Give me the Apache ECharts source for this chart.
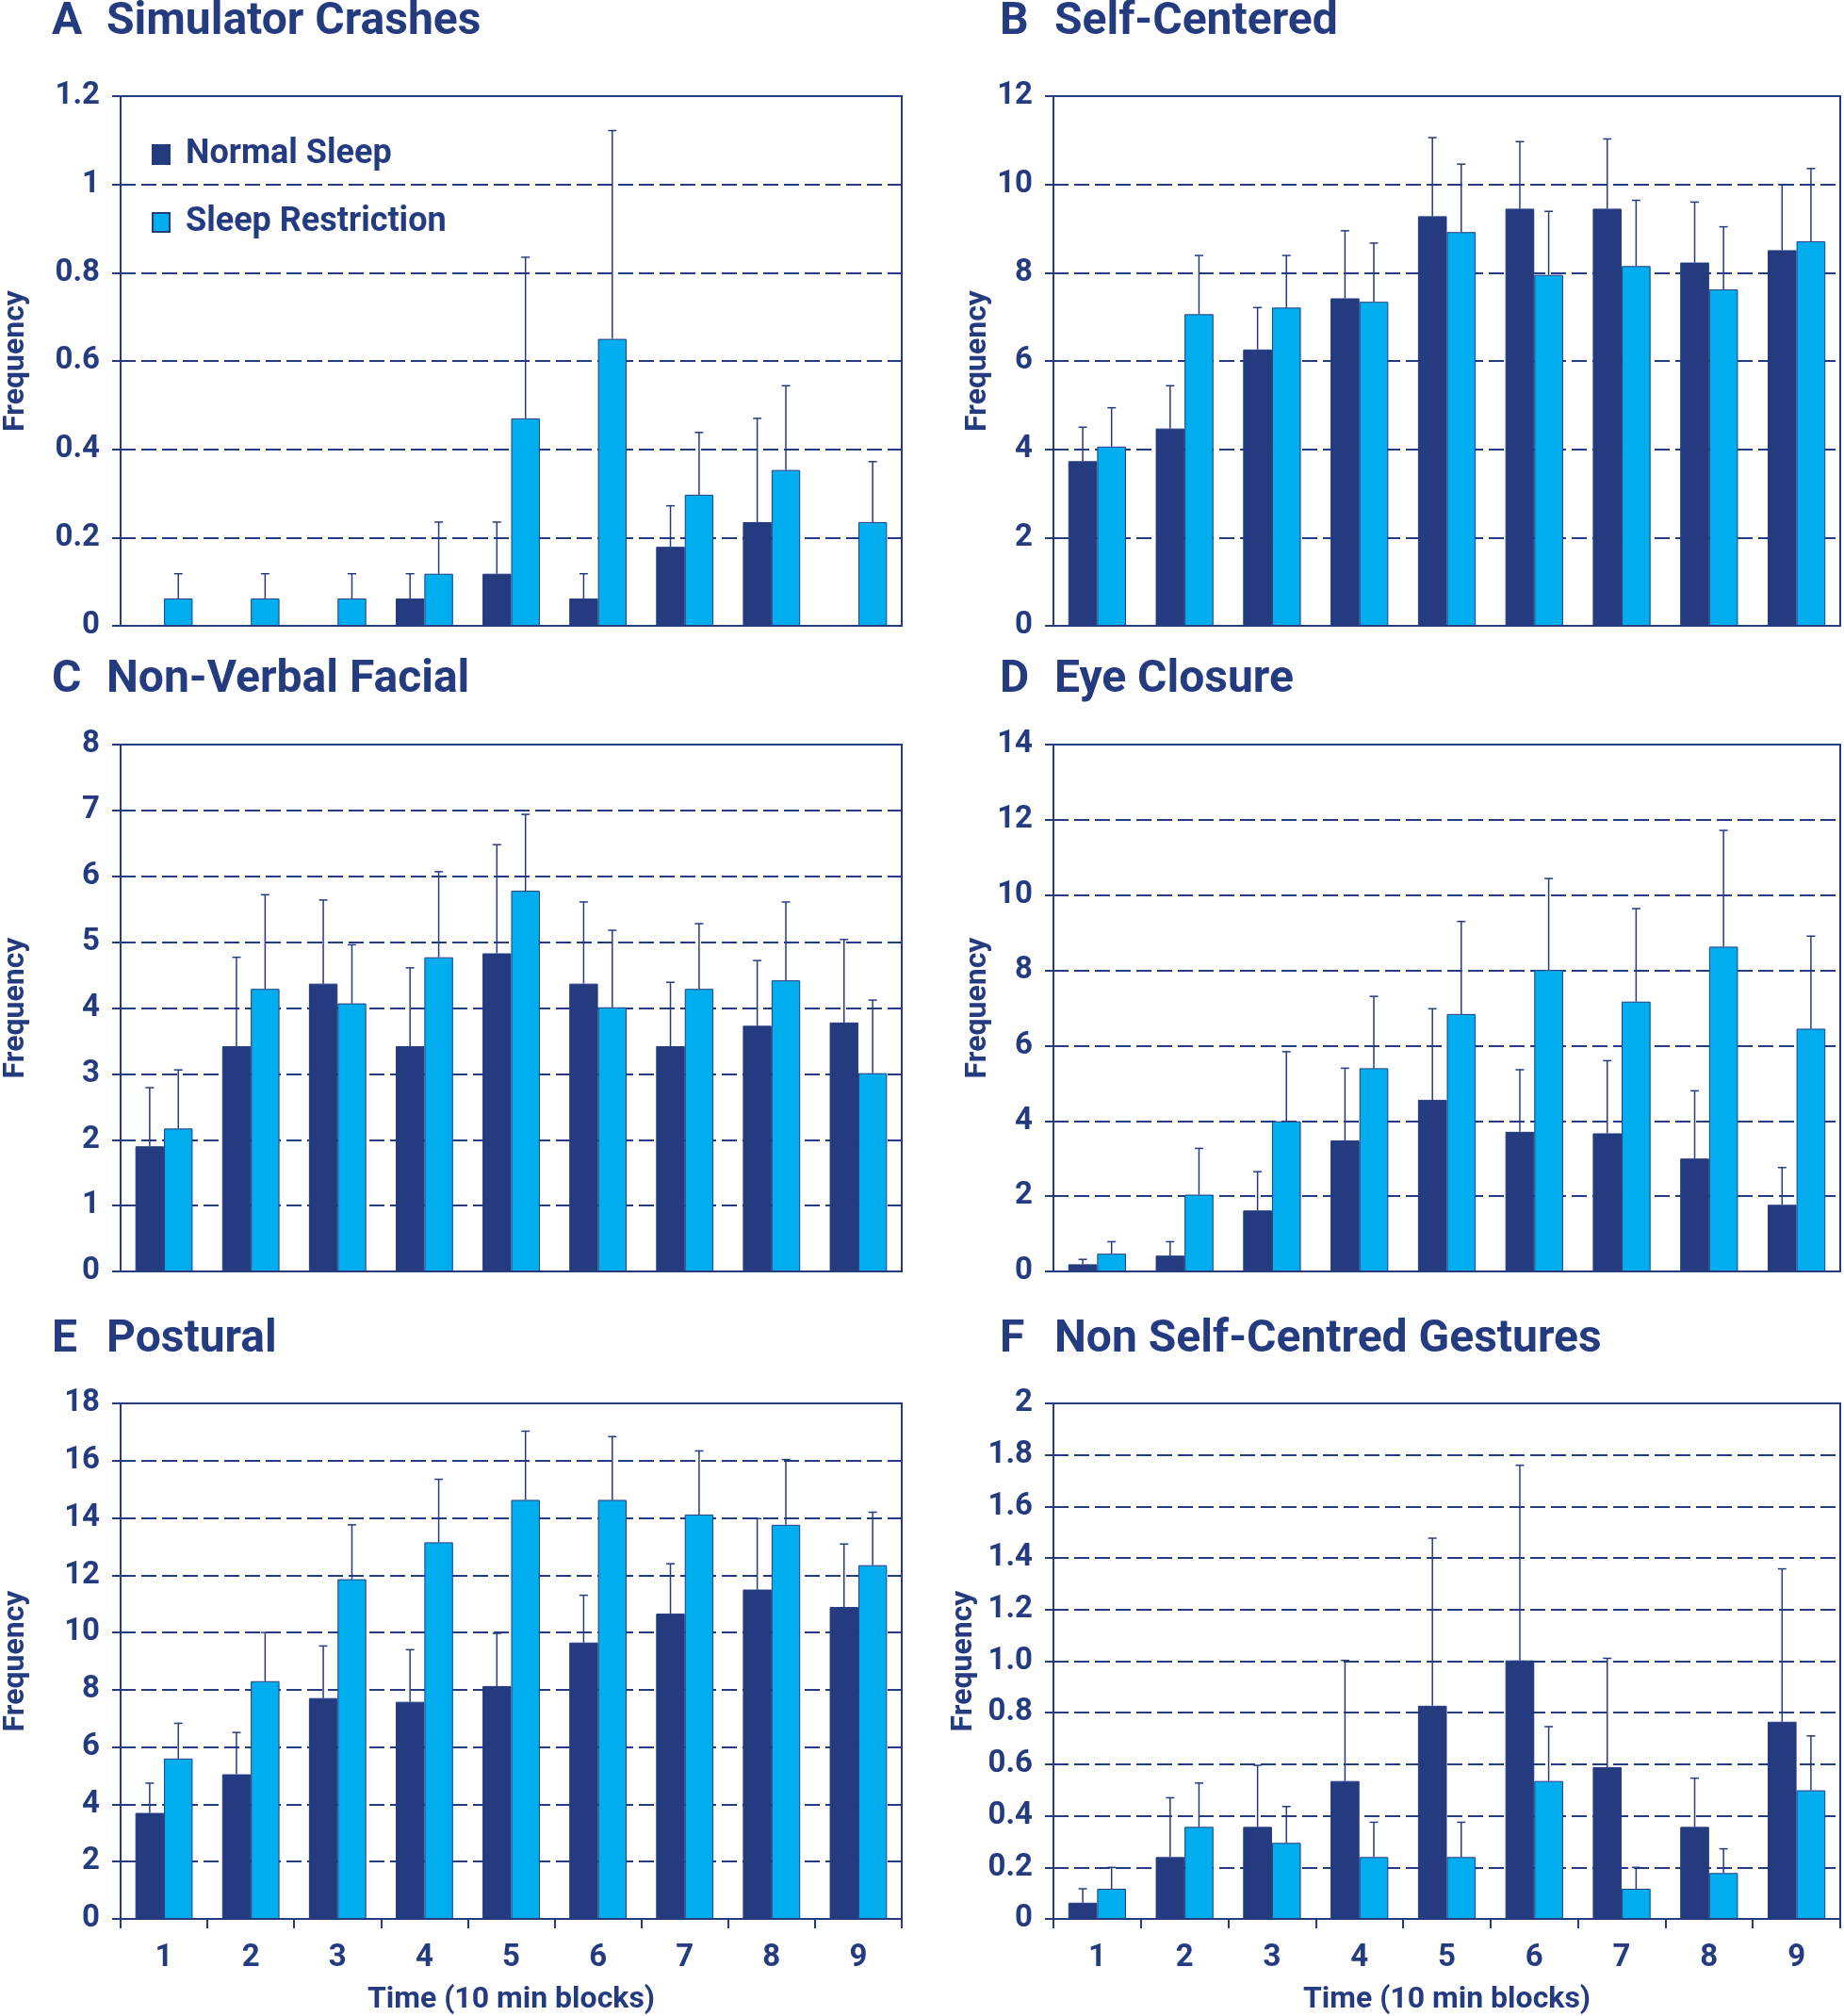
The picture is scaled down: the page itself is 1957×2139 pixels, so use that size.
<!DOCTYPE html>
<html><head><meta charset="utf-8">
<script src="https://cdn.jsdelivr.net/npm/echarts@6/dist/echarts.min.js"></script>
<style>html,body{margin:0;padding:0;background:#fff}#c{width:1957px;height:2139px}</style>
</head><body><div id="c"></div>
<script>
// ---------- DATA ----------
const categories = ['1','2','3','4','5','6','7','8','9'];
const seriesNames = ['Normal Sleep','Sleep Restriction'];

// A Simulator Crashes
const aNormal        = [0, 0, 0, 0.062, 0.118, 0.062, 0.179, 0.235, 0];
const aNormalUpper   = [null, null, null, 0.118, 0.235, 0.118, 0.272, 0.47, null];
const aRestrict      = [0.062, 0.062, 0.062, 0.118, 0.47, 0.65, 0.297, 0.353, 0.235];
const aRestrictUpper = [0.118, 0.118, 0.118, 0.235, 0.835, 1.122, 0.438, 0.544, 0.372];

// B Self-Centered
const bNormal        = [3.73, 4.47, 6.26, 7.42, 9.28, 9.45, 9.45, 8.23, 8.51];
const bNormalUpper   = [4.50, 5.44, 7.21, 8.95, 11.06, 10.97, 11.03, 9.60, 10.0];
const bRestrict      = [4.06, 7.06, 7.21, 7.34, 8.92, 7.95, 8.15, 7.62, 8.71];
const bRestrictUpper = [4.94, 8.39, 8.39, 8.67, 10.46, 9.39, 9.64, 9.04, 10.36];

// C Non-Verbal Facial
const cNormal        = [1.90, 3.42, 4.37, 3.42, 4.83, 4.37, 3.42, 3.73, 3.78];
const cNormalUpper   = [2.79, 4.77, 5.64, 4.61, 6.48, 5.61, 4.39, 4.72, 5.04];
const cRestrict      = [2.17, 4.29, 4.07, 4.77, 5.78, 4.01, 4.29, 4.42, 3.01];
const cRestrictUpper = [3.06, 5.72, 4.96, 6.07, 6.94, 5.18, 5.28, 5.61, 4.12];

// D Eye Closure
const dNormal        = [0.19, 0.42, 1.62, 3.48, 4.56, 3.71, 3.67, 3.00, 1.77];
const dNormalUpper   = [0.32, 0.79, 2.65, 5.40, 6.98, 5.36, 5.60, 4.80, 2.76];
const dRestrict      = [0.47, 2.04, 3.99, 5.40, 6.84, 8.01, 7.17, 8.63, 6.45];
const dRestrictUpper = [0.79, 3.27, 5.84, 7.31, 9.30, 10.44, 9.64, 11.72, 8.91];

// E Postural
const eNormal        = [3.70, 5.05, 7.71, 7.58, 8.13, 9.65, 10.66, 11.50, 10.89];
const eNormalUpper   = [4.74, 6.51, 9.53, 9.40, 9.97, 11.30, 12.40, 13.98, 13.09];
const eRestrict      = [5.60, 8.30, 11.86, 13.15, 14.63, 14.63, 14.12, 13.76, 12.35];
const eRestrictUpper = [6.83, 10.0, 13.76, 15.35, 17.03, 16.84, 16.34, 16.04, 14.20];

// F Non Self-Centred Gestures
const fNormal        = [0.063, 0.24, 0.357, 0.535, 0.827, 1.003, 0.589, 0.357, 0.765];
const fNormalUpper   = [0.117, 0.47, 0.596, 1.003, 1.477, 1.76, 1.011, 0.546, 1.358];
const fRestrict      = [0.117, 0.357, 0.295, 0.24, 0.24, 0.535, 0.117, 0.178, 0.499];
const fRestrictUpper = [0.20, 0.527, 0.436, 0.375, 0.375, 0.746, 0.20, 0.272, 0.71];

// axis ticks
const yMax      = [1.2, 12, 8, 14, 18, 2];
const yInterval = [0.2, 2, 1, 2, 2, 0.2];
const panelLetters = ['A','B','C','D','E','F'];
const panelNames = ['Simulator Crashes','Self-Centered','Non-Verbal Facial','Eye Closure','Postural','Non Self-Centred Gestures'];
const yAxisName = 'Frequency';
const xAxisName = 'Time (10 min blocks)';

// ---------- STYLE / LAYOUT ----------
const NAVY = '#253b80';
const CYAN = '#00aeef';
const FF = 'Roboto';
const BAR_FRAC = 0.33;

const panelData = [
  [aNormal, aNormalUpper, aRestrict, aRestrictUpper],
  [bNormal, bNormalUpper, bRestrict, bRestrictUpper],
  [cNormal, cNormalUpper, cRestrict, cRestrictUpper],
  [dNormal, dNormalUpper, dRestrict, dRestrictUpper],
  [eNormal, eNormalUpper, eRestrict, eRestrictUpper],
  [fNormal, fNormalUpper, fRestrict, fRestrictUpper]
];
const grids = [
  {left:123, top:102, width:834, height:562},
  {left:1118, top:102, width:835, height:562},
  {left:123, top:790, width:834, height:559},
  {left:1118, top:790, width:835, height:559},
  {left:123, top:1489, width:834, height:556},
  {left:1118, top:1489, width:835, height:556}
];
const titlePos = [[55,0],[1061,0],[55,698],[1061,698],[55,1398],[1061,1398]];
const nameGaps = [95, 64, 95, 64, 95, 79];
const labelLift = [16, 16, 10, 10, 4, 4];

function errRender(side){
  return function(params, api){
    const x = api.value(0), v = api.value(1), u = api.value(2);
    const bw = api.size([1,0])[0] * BAR_FRAC;
    const p0 = api.coord([x, v]);
    const p1 = api.coord([x, u]);
    const cx = p0[0] + side * bw / 2;
    return {type:'group', children:[
      {type:'line', shape:{x1:cx, y1:p0[1], x2:cx, y2:p1[1]}, style:{stroke:NAVY, lineWidth:1.5}},
      {type:'line', shape:{x1:cx-4.5, y1:p1[1], x2:cx+4.5, y2:p1[1]}, style:{stroke:NAVY, lineWidth:1.5}}
    ]};
  };
}
function errData(vals, upper){
  const out = [];
  vals.forEach((v,i)=>{ if(upper[i] != null) out.push([i, v, upper[i]]); });
  return out;
}

const option = {
  backgroundColor:'#fff',
  animation:false,
  title: panelLetters.map((l,i)=>({
    text: '{l|' + l + '}{n|' + panelNames[i] + '}',
    left: titlePos[i][0], top: titlePos[i][1], padding:0,
    textStyle:{rich:{
      l:{width:58, fontSize:48, fontWeight:'bold', color:NAVY, fontFamily:FF},
      n:{fontSize:48, fontWeight:'bold', color:NAVY, fontFamily:FF}
    }}
  })),
  legend:{
    data: seriesNames, left:156, top:141, orient:'vertical',
    itemWidth:18, itemHeight:20, itemGap:36, icon:'rect',
    textStyle:{color:NAVY, fontSize:36, fontWeight:'bold', fontFamily:FF, padding:[0,0,0,12]}
  },
  grid: grids.map(g=>Object.assign({show:true, borderColor:NAVY, borderWidth:2, backgroundColor:'transparent'}, g)),
  xAxis: grids.map((g,i)=>{
    const showX = i >= 4;
    return {
      type:'category', gridIndex:i, data:categories,
      axisLine:{lineStyle:{color:NAVY, width:2}},
      axisTick:{show:showX, length:10, lineStyle:{color:NAVY, width:2}},
      axisLabel:{show:showX, color:NAVY, fontSize:33, fontWeight:'bold', fontFamily:FF, margin:25},
      name: showX ? xAxisName : '', nameLocation:'middle', nameGap:70,
      nameTextStyle:{color:NAVY, fontSize:32, fontWeight:'bold', fontFamily:FF},
      splitLine:{show:false}
    };
  }),
  yAxis: grids.map((g,i)=>({
    type:'value', gridIndex:i, min:0, max:yMax[i], interval:yInterval[i],
    axisLine:{show:true, lineStyle:{color:NAVY, width:2}},
    axisTick:{show:true, length:9, lineStyle:{color:NAVY, width:2}},
    axisLabel:{color:NAVY, fontSize:33, fontWeight:'bold', fontFamily:FF, margin:22, padding:[0,0,labelLift[i],0],
      formatter: i === 5 ? (v => (v === 0 || v === 2) ? String(v) : v.toFixed(1)) : (v => String(+v.toFixed(2)))},
    splitLine:{show:true, lineStyle:{color:NAVY, width:2, type:[16,6]}},
    name: yAxisName, nameLocation:'middle', nameRotate:90, nameGap:nameGaps[i],
    nameTextStyle:{color:NAVY, fontSize:32, fontWeight:'bold', fontFamily:FF}
  })),
  series: []
};

panelData.forEach((d,i)=>{
  option.series.push({
    name:seriesNames[0], type:'bar', xAxisIndex:i, yAxisIndex:i, data:d[0],
    barWidth:(BAR_FRAC*100)+'%', barGap:'0%',
    itemStyle:{color:NAVY, borderColor:NAVY, borderWidth:1}
  });
  option.series.push({
    name:seriesNames[1], type:'bar', xAxisIndex:i, yAxisIndex:i, data:d[2],
    barWidth:(BAR_FRAC*100)+'%', barGap:'0%',
    itemStyle:{color:CYAN, borderColor:NAVY, borderWidth:1}
  });
  option.series.push({
    type:'custom', xAxisIndex:i, yAxisIndex:i, z:5, silent:true,
    renderItem: errRender(-1), data: errData(d[0], d[1])
  });
  option.series.push({
    type:'custom', xAxisIndex:i, yAxisIndex:i, z:5, silent:true,
    renderItem: errRender(1), data: errData(d[2], d[3])
  });
});

const chart = echarts.init(document.getElementById('c'), null, {renderer:'canvas'});
chart.setOption(option);
</script>
</body></html>
